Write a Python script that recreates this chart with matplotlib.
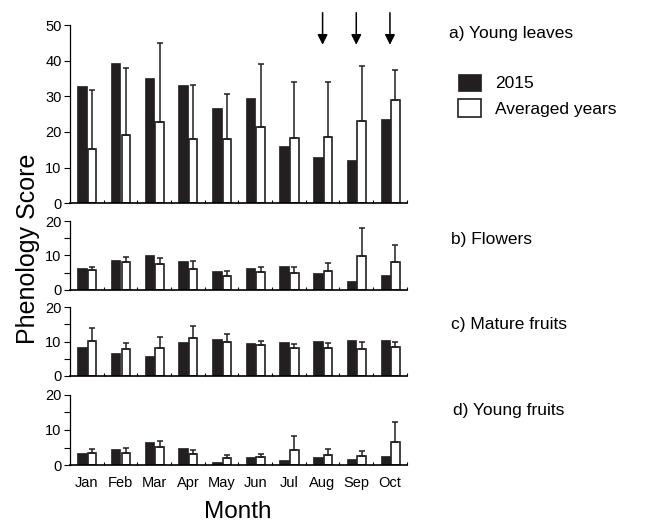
import numpy as np
import matplotlib.pyplot as plt

plt.rcParams['font.family'] = ['Liberation Sans', 'DejaVu Sans']

months = ['Jan', 'Feb', 'Mar', 'Apr', 'May', 'Jun', 'Jul', 'Aug', 'Sep', 'Oct']

# a) Young leaves
leaves_2015 = [32.9, 39.4, 35.3, 33.3, 26.8, 29.6, 16.0, 13.0, 12.0, 23.6]
leaves_avg = [15.2, 19.2, 22.8, 18.1, 18.1, 21.5, 18.4, 18.7, 23.1, 29.1]
leaves_top = [31.8, 38.0, 44.9, 33.1, 30.6, 39.0, 34.1, 34.1, 38.6, 37.3]

# b) Flowers
flowers_2015 = [6.3, 8.8, 10.2, 8.3, 5.4, 6.3, 6.9, 5.0, 2.6, 4.3]
flowers_avg = [5.8, 8.1, 7.4, 6.0, 4.0, 5.3, 5.0, 5.6, 9.9, 8.0]
flowers_top = [6.7, 9.4, 9.3, 8.4, 5.4, 6.7, 6.5, 7.8, 18.1, 13.0]

# c) Mature fruits
mature_2015 = [8.5, 6.8, 5.9, 9.8, 10.6, 9.7, 9.8, 10.2, 10.5, 10.5]
mature_avg = [10.1, 7.8, 8.2, 10.9, 10.0, 8.9, 8.0, 8.2, 7.9, 8.3]
mature_top = [13.9, 9.7, 11.3, 14.5, 12.3, 10.2, 9.3, 9.7, 9.9, 9.8]

# d) Young fruits
yfruit_2015 = [3.5, 4.5, 6.7, 4.8, 1.0, 2.3, 1.6, 2.3, 1.7, 2.5]
yfruit_avg = [3.5, 3.4, 5.1, 3.1, 2.0, 2.3, 4.2, 3.0, 2.6, 6.7]
yfruit_top = [4.5, 4.8, 6.8, 4.4, 2.8, 3.2, 8.3, 4.5, 3.9, 12.2]

arrow_months = ['Aug', 'Sep', 'Oct']

panels = [
    ('a) Young leaves', leaves_2015, leaves_avg, leaves_top, 50),
    ('b) Flowers', flowers_2015, flowers_avg, flowers_top, 20),
    ('c) Mature fruits', mature_2015, mature_avg, mature_top, 20),
    ('d) Young fruits', yfruit_2015, yfruit_avg, yfruit_top, 20),
]

# axes boxes [left, bottom, width, height] in figure fraction
boxes = [
    [0.107, 0.613, 0.515, 0.339],
    [0.107, 0.448, 0.515, 0.131],
    [0.107, 0.284, 0.515, 0.131],
    [0.107, 0.114, 0.515, 0.134],
]
label_y = [0.937, 0.543, 0.381, 0.219]
label_x = [0.686, 0.689, 0.689, 0.693]

fig = plt.figure(figsize=(6.54, 5.25), dpi=100)
x = np.arange(len(months))
w = 0.28
dark = '#231f20'

for i, (name, v15, vavg, vtop, ymax) in enumerate(panels):
    ax = fig.add_axes(boxes[i])
    b1 = ax.bar(x - 0.14, v15, w, color=dark, edgecolor=dark, linewidth=0.5)
    err = np.array(vtop) - np.array(vavg)
    b2 = ax.bar(x + 0.16, vavg, w - 0.03, color='white', edgecolor=dark, linewidth=1.2)
    ax.errorbar(x + 0.16, vavg, yerr=[np.zeros(len(x)), err], fmt='none',
                ecolor=dark, elinewidth=1.1, capsize=2.5, capthick=1.1)
    ax.set_xlim(-0.5, 9.5)
    ax.set_ylim(0, ymax)
    for s in ['top', 'right']:
        ax.spines[s].set_visible(False)
    ax.spines['left'].set_linewidth(0.9)
    ax.spines['bottom'].set_linewidth(1.2)
    if ymax == 50:
        ax.set_yticks([0, 10, 20, 30, 40, 50])
    else:
        ax.set_yticks([0, 5, 10, 15, 20])
        ax.set_yticklabels(['0', '', '10', '', '20'])
    ax.tick_params(axis='y', direction='out', length=4, width=0.8, labelsize=10.5, pad=2)
    ax.set_xticks(x)
    ax.set_xticks(np.arange(10) + 0.5, minor=True)
    ax.tick_params(axis='x', which='major', length=0, labelsize=10.5, pad=8)
    ax.tick_params(axis='x', which='minor', direction='in', length=2, width=0.8)
    if i == 3:
        ax.set_xticklabels(months)
    else:
        ax.set_xticklabels([])
    fig.text(label_x[i], label_y[i], name, fontsize=12.5, va='center', ha='left')
    if i == 0:
        for m in arrow_months:
            xm = months.index(m)
            ax.annotate('', xy=(xm, 44.5), xytext=(xm, 53.5), annotation_clip=False,
                        arrowprops=dict(arrowstyle='-|>', color='black', lw=1.1,
                                        mutation_scale=15, shrinkA=0, shrinkB=0))
        fig.legend([b1, b2], ['2015', 'Averaged years'], loc='upper left',
                   bbox_to_anchor=(0.69, 0.873), frameon=False, fontsize=12.5,
                   handlelength=1.3, handleheight=1.2, handletextpad=0.8,
                   labelspacing=0.45, borderaxespad=0)

fig.text(0.043, 0.527, 'Phenology Score', rotation=90, fontsize=18,
         va='center', ha='center')
fig.text(0.364, 0.004, 'Month', fontsize=17.5, va='bottom', ha='center')

plt.savefig('out.png', dpi=100)
